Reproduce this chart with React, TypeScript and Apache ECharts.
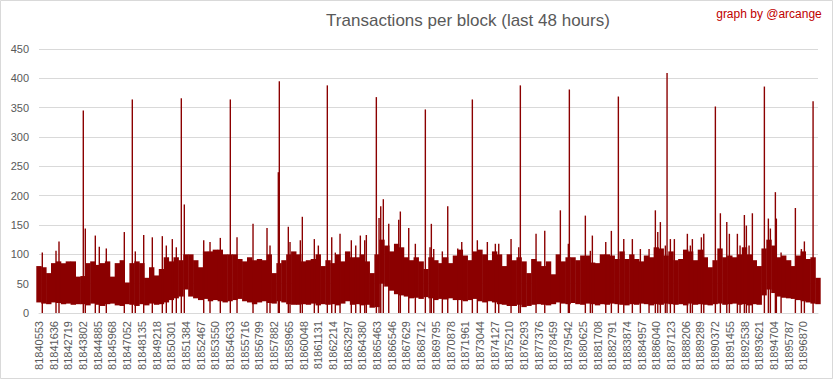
import React, { useEffect, useRef } from "react";
import * as echarts from "echarts";

// Axis tick labels (block numbers), as printed on the x axis
const tickLabels = [
  "81840553","81841636","81842719","81843802","81844885","81845968","81847052","81848135","81849218",
  "81850301","81851384","81852467","81853550","81854633","81855716","81856799","81857882","81858965",
  "81860048","81861131","81862214","81863297","81864380","81865463","81866546","81867629","81868712",
  "81869795","81870878","81871961","81873044","81874127","81875210","81876293","81877376","81878459",
  "81879542","81880625","81881708","81882791","81883874","81884957","81886040","81887123","81888206",
  "81889289","81890372","81891455","81892538","81893621","81894704","81895787","81896870",
];

const FIRST_BLOCK = 81840553;
const BIN_SIZE = 361; // blocks per bin (3 bins per labelled step of ~1083 blocks)
const BIN_COUNT = 160;

// Top of the solid part of the band per bin (transactions per block)
const bandHigh = [
  80, 78, 68, 85, 88, 85, 88, 88, 62, 63,
  85, 88, 82, 85, 88, 62, 85, 90, 52, 85,
  88, 85, 60, 78, 64, 75, 95, 88, 95, 90,
  100, 100, 90, 78, 105, 105, 108, 108, 100, 100,
  100, 92, 88, 95, 90, 92, 90, 100, 68, 85,
  90, 100, 105, 100, 88, 90, 92, 100, 80, 90,
  85, 100, 88, 105, 95, 95, 100, 88, 68, 100,
  125, 115, 105, 118, 112, 95, 90, 95, 88, 75,
  95, 90, 85, 95, 85, 98, 108, 98, 90, 105,
  108, 100, 90, 105, 100, 80, 100, 90, 95, 88,
  68, 92, 88, 80, 88, 66, 100, 88, 95, 95,
  90, 98, 98, 86, 85, 100, 100, 98, 92, 105,
  92, 100, 92, 88, 98, 95, 112, 110, 98, 105,
  90, 92, 108, 105, 90, 108, 95, 78, 90, 110,
  95, 98, 95, 100, 112, 100, 90, 80, 110, 125,
  115, 95, 98, 90, 80, 98, 105, 92, 95, 60,
];

// Lower edge of the band per bin
const bandLow = [
  18, 16, 15, 18, 17, 15, 16, 14, 15, 15,
  13, 16, 14, 12, 15, 16, 13, 12, 15, 14,
  12, 15, 13, 16, 14, 15, 18, 22, 25, 28,
  40, 28, 25, 22, 24, 20, 22, 20, 18, 20,
  22, 24, 20, 18, 15, 18, 20, 17, 16, 20,
  18, 15, 14, 14, 15, 14, 16, 13, 15, 14,
  15, 13, 16, 20, 14, 15, 13, 14, 9, 10,
  50, 45, 38, 32, 30, 28, 25, 26, 24, 27,
  25, 22, 24, 23, 25, 22, 22, 20, 22, 24,
  20, 18, 20, 18, 15, 14, 12, 12, 14, 10,
  12, 14, 15, 14, 13, 15, 18, 16, 15, 17,
  15, 14, 16, 15, 13, 15, 14, 16, 15, 14,
  13, 15, 14, 16, 15, 13, 15, 14, 16, 15,
  14, 15, 13, 16, 14, 15, 14, 13, 15, 16,
  14, 15, 16, 14, 15, 13, 15, 14, 30, 40,
  34, 28, 26, 25, 24, 22, 20, 18, 16, 15,
];

// Tall isolated spikes: block number and transactions
const peakBlocks = [
  81840796, 81842027, 81843817, 81843965, 81844702, 81846839, 81847428, 81848268, 81848902, 81849639,
  81850376, 81851039, 81851260, 81854650, 81856323, 81857354, 81858187, 81858261, 81858924, 81859956,
  81861798, 81862122, 81862734, 81864230, 81864672, 81865409, 81865608, 81865733, 81865924, 81866323,
  81867059, 81867177, 81867796, 81869020, 81869462, 81870670, 81872483, 81876020, 81877177, 81877818,
  81878968, 81879631, 81880810, 81881326, 81882726, 81883242, 81885968, 81886337, 81886830, 81888326,
  81889535, 81890390, 81890758, 81891230, 81892011, 81892527, 81893116, 81894001, 81894295, 81894811,
  81896285, 81897589,
];
const peakValues = [
  103, 122, 345, 144, 132, 138, 364, 133, 129, 131,
  126, 366, 185, 364, 152, 145, 240, 395, 147, 164,
  388, 129, 135, 132, 133, 368, 162, 182, 194, 152,
  159, 173, 145, 347, 152, 182, 364, 388, 135, 140,
  175, 381, 166, 132, 140, 369, 175, 155, 409, 135,
  135, 352, 170, 155, 135, 167, 170, 386, 161, 206,
  179, 361,
];

// Thinner spikes rising just above the band
const spikeBlocks = [
  81841806, 81844996, 81845512, 81847649, 81849934, 81850671, 81852690, 81853154, 81853913, 81855144,
  81857575, 81859049, 81859808, 81860840, 81861135, 81862387, 81863566, 81863891, 81864554, 81868283,
  81869366, 81869638, 81870272, 81871407, 81871702, 81872851, 81873588, 81874178, 81874428, 81875335,
  81875902, 81879557, 81881178, 81882313, 81883640, 81884273, 81884863, 81885504, 81886145, 81886705,
  81887074, 81887368, 81888547, 81888695, 81889358, 81891421, 81892210, 81892674, 81892873, 81894443,
  81894884, 81895231, 81896727, 81896948,
];
const spikeValues = [
  106, 113, 110, 105, 115, 112, 124, 121, 128, 129,
  115, 121, 124, 126, 115, 103, 124, 115, 124, 118,
  112, 109, 105, 110, 121, 124, 121, 118, 118, 126,
  112, 118, 106, 121, 126, 126, 109, 109, 138, 115,
  126, 126, 115, 126, 129, 135, 115, 149, 115, 144,
  161, 103, 109, 122,
];

const yMin = 0;
const yMax = 450;
const yStep = 50;

const RED = "#8b0000";
const GREY_TEXT = "#595959";
const GRID_GREY = "#d9d9d9";
const FONT = "'Liberation Sans', Arial, sans-serif";

export default function App() {
  const ref = useRef<HTMLDivElement>(null);

  useEffect(() => {
    if (!ref.current) return;
    const chart = echarts.init(ref.current, undefined, { renderer: "svg" });

    // category key for each bin: labelled bins use the printed block number
    const categories: string[] = [];
    for (let j = 0; j < BIN_COUNT; j++) {
      if (j % 3 === 0 && j / 3 < tickLabels.length) categories.push(tickLabels[j / 3]);
      else categories.push(String(FIRST_BLOCK + BIN_SIZE * j));
    }
    const bandBody = bandHigh.map((h, i) => h - bandLow[i]);
    const peaks = peakBlocks.map((b, i) => [b, peakValues[i]]);
    const spikes = spikeBlocks.map((b, i) => [b, spikeValues[i]]);

    chart.setOption({
      animation: false,
      backgroundColor: "#ffffff",
      textStyle: { fontFamily: FONT },
      grid: { left: 39, right: 15, top: 49, bottom: 66, containLabel: false },
      xAxis: [
        {
          type: "category",
          data: categories,
          boundaryGap: false,
          axisLine: { show: true, lineStyle: { color: GRID_GREY, width: 1 } },
          axisTick: { show: false },
          splitLine: { show: false },
          axisLabel: {
            interval: (idx: number) => idx % 3 === 0 && idx / 3 < tickLabels.length,
            rotate: 90,
            color: GREY_TEXT,
            fontSize: 11,
            fontFamily: FONT,
            margin: 8,
          },
        },
        {
          type: "value",
          show: false,
          min: FIRST_BLOCK,
          max: FIRST_BLOCK + BIN_SIZE * (BIN_COUNT - 1),
          splitLine: { show: false },
        },
      ],
      yAxis: {
        type: "value",
        min: yMin,
        max: yMax,
        interval: yStep,
        axisLine: { show: false },
        axisTick: { show: false },
        splitLine: { show: true, lineStyle: { color: GRID_GREY, width: 1 } },
        axisLabel: { color: GREY_TEXT, fontSize: 11, fontFamily: FONT, margin: 10 },
      },
      series: [
        {
          type: "bar",
          name: "base",
          stack: "band",
          data: bandLow,
          barWidth: 5.4,
          itemStyle: { color: "rgba(0,0,0,0)" },
          silent: true,
          clip: true,
        },
        {
          type: "bar",
          name: "band",
          stack: "band",
          data: bandBody,
          barWidth: 5.4,
          itemStyle: { color: RED },
          silent: true,
          clip: true,
        },
        {
          type: "bar",
          name: "peaks",
          xAxisIndex: 1,
          data: peaks,
          barWidth: 1.4,
          barGap: "-100%",
          itemStyle: { color: RED },
          silent: true,
          clip: true,
        },
        {
          type: "bar",
          name: "spikes",
          xAxisIndex: 1,
          data: spikes,
          barWidth: 1.4,
          barGap: "-100%",
          itemStyle: { color: RED },
          silent: true,
          clip: true,
        },
      ],
      graphic: [
        {
          type: "rect",
          shape: { x: 0.5, y: 0.5, width: 832, height: 378 },
          style: { fill: "none", stroke: GRID_GREY, lineWidth: 1 },
          silent: true,
          z: -1,
        },
        {
          type: "text",
          x: 468,
          y: 20,
          style: {
            text: "Transactions per block (last 48 hours)",
            fill: GREY_TEXT,
            font: `17px ${FONT}`,
            textAlign: "center",
            textVerticalAlign: "middle",
          },
        },
        {
          type: "text",
          x: 769,
          y: 14,
          style: {
            text: "graph by @arcange",
            fill: "#c00000",
            font: `12px ${FONT}`,
            textAlign: "center",
            textVerticalAlign: "middle",
          },
        },
      ],
    });

    return () => chart.dispose();
  }, []);

  return (
    <div
      ref={ref}
      style={{ position: "fixed", left: 0, top: 0, width: 833, height: 379, background: "#fff" }}
    />
  );
}
